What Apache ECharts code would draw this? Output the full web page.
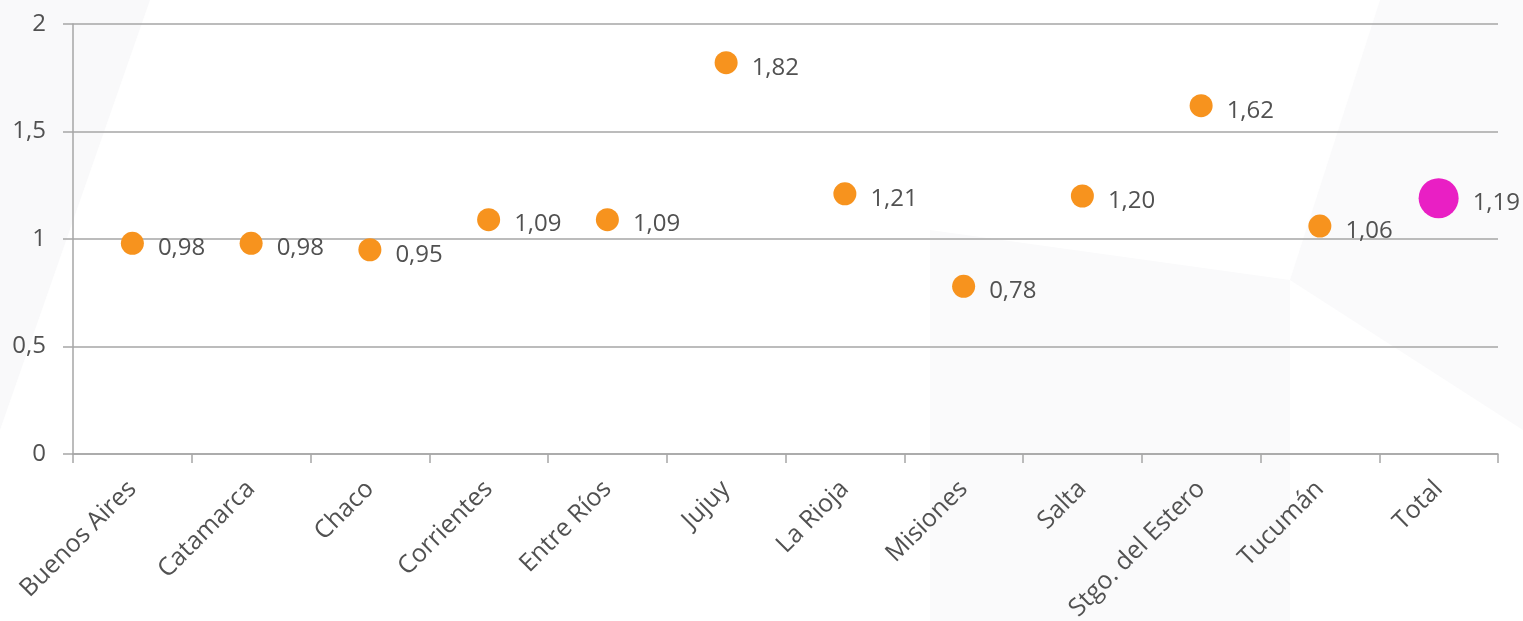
<!DOCTYPE html>
<html>
<head>
<meta charset="utf-8">
<script src="https://cdn.jsdelivr.net/npm/echarts@6/dist/echarts.min.js"></script>
<style>
html,body{margin:0;padding:0;background:#ffffff;}
#c{width:1523px;height:621px;}
</style>
</head>
<body>
<div id="c"></div>
<script>
const categories = ['Buenos Aires','Catamarca','Chaco','Corrientes','Entre Ríos','Jujuy','La Rioja','Misiones','Salta','Stgo. del Estero','Tucumán','Total'];
const values = [0.98, 0.98, 0.95, 1.09, 1.09, 1.82, 1.21, 0.78, 1.20, 1.62, 1.06, 1.19];
const highlightIndex = 11;
const yMin = 0, yMax = 2, yInterval = 0.5;

const fmt = v => String(v).replace('.', ',');
const fmt2 = v => v.toFixed(2).replace('.', ',');

const chart = echarts.init(document.getElementById('c'));
const textColor = '#515151';
const lineColor = '#a6a6a6';
const font = 'Open Sans';

const data = values.map((v, i) => i === highlightIndex
  ? { value: v, symbolSize: 40, itemStyle: { color: '#e91fc4', opacity: 1 } }
  : { value: v });

chart.setOption({
  backgroundColor: '#ffffff',
  animation: false,
  graphic: [
    { type: 'polygon', z: -10, silent: true, shape: { points: [[0,0],[150,0],[0,430]] }, style: { fill: '#f9f9fa' } },
    { type: 'polygon', z: -10, silent: true, shape: { points: [[930,230],[1290,280],[1290,621],[930,621]] }, style: { fill: '#fafafb' } },
    { type: 'polygon', z: -10, silent: true, shape: { points: [[1380,0],[1523,0],[1523,430],[1290,280]] }, style: { fill: '#fafafb' } }
  ],
  grid: { left: 73, right: 25, top: 24, bottom: 167, containLabel: false, outerBoundsMode: 'none' },
  xAxis: {
    type: 'category',
    data: categories,
    boundaryGap: true,
    axisLine: { show: true, lineStyle: { color: lineColor, width: 1.5 } },
    axisTick: { show: true, length: 9, alignWithLabel: false, lineStyle: { color: lineColor, width: 1.5 } },
    axisLabel: { rotate: 45, interval: 0, margin: 31, fontSize: 25, fontFamily: font, color: textColor },
    splitLine: { show: false }
  },
  yAxis: {
    type: 'value',
    min: yMin, max: yMax, interval: yInterval,
    axisLine: { show: true, lineStyle: { color: lineColor, width: 1.5 } },
    axisTick: { show: true, length: 10, lineStyle: { color: lineColor, width: 1.5 } },
    axisLabel: { margin: 27, fontSize: 24, fontFamily: font, color: textColor, formatter: fmt },
    splitLine: { show: true, lineStyle: { color: lineColor, width: 1.5 } }
  },
  series: [{
    type: 'scatter',
    data: data,
    symbol: 'circle',
    symbolSize: 23,
    itemStyle: { color: '#f7931e', opacity: 1 },
    emphasis: { disabled: true },
    label: {
      show: true, position: 'right', distance: 14,
      fontSize: 24, fontFamily: font, color: textColor,
      offset: [0, 5],
      formatter: p => fmt2(p.value)
    }
  }]
});
</script>
</body>
</html>
